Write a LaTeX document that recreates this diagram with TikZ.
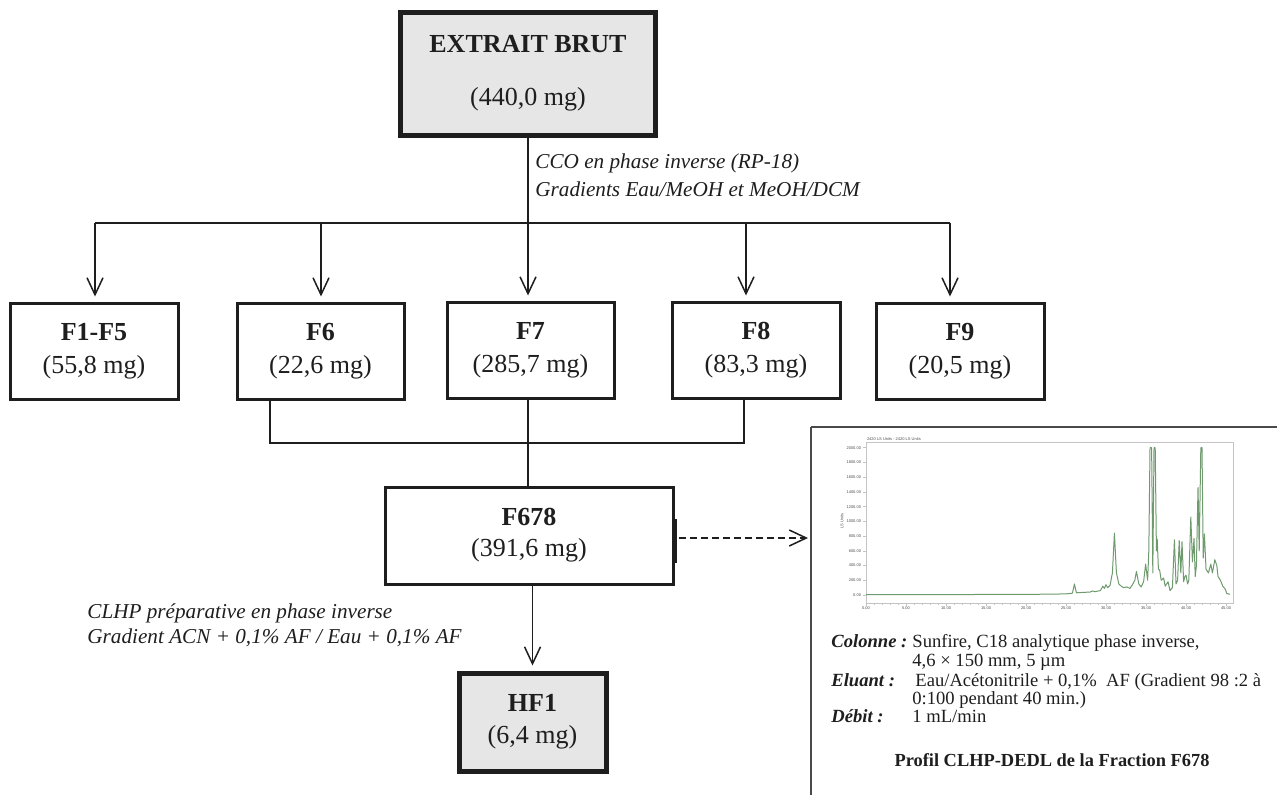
\documentclass[tikz,border=0pt]{standalone}
\usepackage{fontspec}
\setmainfont{Liberation Serif}
\setsansfont{Liberation Sans}
\usepackage{tikz}
\usetikzlibrary{
    positioning,
    arrows.meta
}

\definecolor{boxgrey}{HTML}{E6E6E6}
\definecolor{inkdark}{HTML}{1E1E1E}
\definecolor{tracegreen}{HTML}{6E9A6E}
\definecolor{framegrey}{HTML}{C4C4C4}
\definecolor{panelgrey}{HTML}{4A4A4A}

\begin{document}
\begin{tikzpicture}[
    x=0.5pt, y=-0.5pt,
    fraction/.style={
        rectangle,
        draw=inkdark,
        line width=1.5pt,
        align=center,
        inner sep=0pt,
        minimum height=48pt,
        text=inkdark,
        font=\fontsize{13}{16.5}\selectfont
    },
    result/.style={
        fraction,
        fill=boxgrey,
        line width=2.5pt
    },
    method/.style={
        anchor=west,
        align=left,
        inner sep=0pt,
        text=inkdark,
        font=\fontsize{10.6}{14}\selectfont\itshape
    },
    info/.style={
        anchor=west,
        inner sep=0pt,
        text height=6.5pt,
        text depth=2pt,
        text=inkdark,
        font=\fontsize{9.3}{10}\selectfont
    },
    infokey/.style={
        info,
        font=\fontsize{9.3}{10}\selectfont\bfseries\itshape
    },
    ticklabel/.style={
        inner sep=0.3pt,
        text=black!70,
        font=\sffamily\fontsize{2}{2.4}\selectfont
    },
    arrow/.style={
        -{Straight Barb[length=8.5pt,width=8pt]},
        line width=0.75pt,
        draw=inkdark,
        shorten >=2.5pt
    },
    link/.style={
        line width=0.75pt,
        draw=inkdark
    },
    panelline/.style={
        line width=0.75pt,
        draw=panelgrey
    }
]

\useasboundingbox (0,0) rectangle (1277,794);

% ============================================================
% CRUDE EXTRACT
% ============================================================

\node[result, minimum width=127.5pt, minimum height=61.5pt,
      font=\fontsize{13}{26.5}\selectfont] (brut) at (528,73.5)
{
\textbf{EXTRAIT BRUT}\\
(440,0 mg)
};

\node[method] (cco) at (535,175)
{
CCO en phase inverse (RP-18)\\
Gradients Eau/MeOH et MeOH/DCM
};

% ============================================================
% FRACTIONS
% ============================================================

\node[fraction, minimum width=84pt] (f15) at (94,351)
{
\textbf{F1-F5}\\
(55,8 mg)
};

\node[fraction, minimum width=83.5pt] (f6) at (320.5,351)
{
\textbf{F6}\\
(22,6 mg)
};

\node[fraction, minimum width=83.5pt] (f7) at (530.5,350)
{
\textbf{F7}\\
(285,7 mg)
};

\node[fraction, minimum width=84pt] (f8) at (756,350)
{
\textbf{F8}\\
(83,3 mg)
};

\node[fraction, minimum width=84pt] (f9) at (960,351)
{
\textbf{F9}\\
(20,5 mg)
};

% ============================================================
% POOLED FRACTION + PURIFIED COMPOUND
% ============================================================

\node[fraction, minimum width=144pt, minimum height=48.5pt,
      font=\fontsize{13}{15.5}\selectfont] (f678) at (529,535.5)
{
\textbf{F678}\\
(391,6 mg)
};

\node[result, minimum width=73.5pt, minimum height=49pt,
      font=\fontsize{13}{16}\selectfont,
      below=42.5pt of f678, xshift=1.75pt] (hf1)
{
\textbf{HF1}\\
(6,4 mg)
};

\node[method, font=\fontsize{10.6}{12.5}\selectfont\itshape] (clhp) at (87,625.5)
{
CLHP préparative en phase inverse\\
Gradient ACN + 0,1\% AF / Eau + 0,1\% AF
};

% ============================================================
% CONNECTIONS
% ============================================================

\coordinate (split) at (528,223);
\coordinate (b15) at (95,223);
\coordinate (b6) at (321,223);
\coordinate (b7) at (528,223);
\coordinate (b8) at (746,223);
\coordinate (b9) at (950,223);

\draw[link] (brut.south) -- (split);
\draw[link] (b15) -- (b9);
\foreach \f in {15,6,7,8,9}
    \draw[arrow] (b\f) -- (b\f |- f\f.north);

\coordinate (j6) at (270,443);
\coordinate (j7) at (528,443);
\coordinate (j8) at (744,443);

\draw[link] (j6 |- f6.south) -- (j6) -- (j8) -- (j8 |- f8.south);
\draw[link] (j7 |- f7.south) -- (j7 |- f678.north);

\draw[arrow] (hf1.north |- f678.south) -- (hf1.north);

\draw[line width=2pt, draw=inkdark]
    ([yshift=8.25pt]f678.east) -- ([yshift=-13.75pt]f678.east);

% ============================================================
% HPLC PROFILE PANEL
% ============================================================

\coordinate (panel) at (811,427);
\coordinate (dashstart) at ([yshift=-1.25pt]f678.east);

\draw[arrow, dash pattern=on 3.5pt off 2pt, shorten <=2pt, shorten >=1.5pt]
    (dashstart) -- (dashstart -| panel);

\draw[panelline] (panel) -- ++(480,0);
\draw[panelline] (panel) -- ++(0,380);

% plot frame and axes
\draw[framegrey, line width=0.4pt] (866,442) rectangle (1233,603);
\node[ticklabel, anchor=south west] (plothead) at (866,442)
    {2420 LS Units - 2420 LS Units};
\node[ticklabel, rotate=90] (plotylabel) at (842,521) {LS Units};

\foreach \k [evaluate=\k as \v using int(200*\k)] in {0,...,10} {
    \draw[framegrey, line width=0.3pt] (863,{595-14.73*\k}) -- (866,{595-14.73*\k});
    \node[ticklabel, anchor=east] at (862,{595-14.73*\k}) {\v.00};
}
\foreach \m in {0,...,45}
    \draw[framegrey, line width=0.3pt] ({866+8*\m},603) -- ++(0,1.5);
\foreach \k [evaluate=\k as \v using int(5*\k)] in {0,...,9} {
    \draw[framegrey, line width=0.3pt] ({866+40*\k},603) -- ++(0,3);
    \node[ticklabel, anchor=north] at ({866+40*\k},606) {\v.00};
}

% trace
\begin{scope}[shift={(866,595)}]
\begin{scope}[x=4pt, y=0.03682pt]
\draw[tracegreen, line width=0.5pt, line join=round] plot coordinates {
    (0,5) (20,8) (25,15) (25.8,25) (26.05,150) (26.3,30) (27,35) (28,40)
    (28.3,55) (28.6,45) (29.3,60) (29.6,120) (29.8,90) (30,140) (30.2,100)
    (30.5,130) (30.8,300) (31.05,840) (31.3,300) (31.6,150) (31.9,120)
    (32.2,100) (32.6,110) (33,90) (33.3,140) (33.6,200) (33.8,320)
    (34.1,150) (34.4,110) (34.7,180) (34.95,420) (35.2,200) (35.35,600)
    (35.5,2000) (35.7,2000) (35.85,300) (36.0,2000) (36.15,2000) (36.3,600)
    (36.4,760) (36.55,350) (36.7,340) (36.9,200) (37.2,230) (37.4,120)
    (37.75,180) (38,60) (38.3,100) (38.55,750) (38.75,150) (38.95,200)
    (39.15,740) (39.35,300) (39.5,725) (39.7,180) (39.85,250) (40.0,270)
    (40.2,150) (40.35,200) (40.6,1060) (40.8,450) (41.0,770) (41.15,250)
    (41.3,400) (41.5,1460) (41.65,600) (41.85,2000) (42.0,2000) (42.15,500)
    (42.3,830) (42.5,350) (42.8,300) (43.1,420) (43.3,300) (43.6,480)
    (43.85,400) (44.0,250) (44.3,200) (44.6,120) (44.9,80) (45.1,20)
    (45.5,10)
};
\end{scope}
\end{scope}

% conditions
\node[infokey] (colonne) at (831,643) {Colonne :};
\node[info] (colval) at (912,643) {Sunfire, C18 analytique phase inverse,};
\node[info] (colval2) at (912,662) {4,6 × 150 mm, 5 µm};
\node[infokey] (eluant) at (831,682) {Eluant :};
\node[info] (eluval) at (915,682) {Eau/Acétonitrile + 0,1\%\ \ AF (Gradient 98 :2 à};
\node[info] (eluval2) at (912,700) {0:100 pendant 40 min.)};
\node[infokey] (debit) at (831,718) {Débit :};
\node[info] (debval) at (912,718) {1 mL/min};

\node[info, anchor=center, font=\fontsize{9.2}{10}\selectfont\bfseries] (profil) at (1052,762)
{Profil CLHP-DEDL de la Fraction F678};

\end{tikzpicture}
\end{document}
